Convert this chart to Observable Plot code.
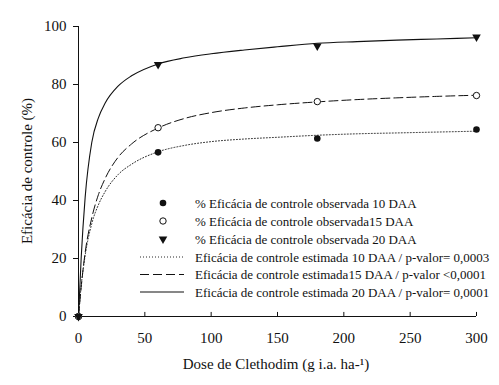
<!DOCTYPE html>
<html><head><meta charset="utf-8">
<script src="https://cdn.jsdelivr.net/npm/d3@7"></script>
<script src="https://cdn.jsdelivr.net/npm/@observablehq/plot@0.6"></script>
<style>body{margin:0;background:#fff} svg text{font-family:'Liberation Serif','Times New Roman',serif !important;}</style>
</head><body><div id="chart"></div>
<script>
// Observed data
const doses = [0, 60, 180, 300];
const obs10 = [0, 56.6, 61.4, 64.5];
const obs15 = [0, 65.1, 74.1, 76.2];
const obs20 = [0, 86.9, 93.3, 96.4];
// Fitted curves
const curveX = [0, 2, 5, 10, 15, 20, 30, 40, 60, 80, 100, 125, 150, 180, 210, 240, 270, 300];
const est10 = [0, 10.5, 21, 32, 38.5, 43, 49, 52.5, 56.8, 59.0, 60.3, 61.2, 61.8, 62.5, 63.0, 63.3, 63.6, 63.9];
const est15 = [0, 10, 22, 34, 42, 47.5, 55, 59.5, 65, 68.3, 70.3, 71.9, 73.0, 74.0, 74.8, 75.4, 75.9, 76.3];
const est20 = [0, 20, 41, 60, 68.5, 73.5, 79.5, 83, 87.1, 89.2, 90.6, 91.9, 93.0, 94.2, 94.8, 95.3, 95.7, 96.1];
const xTicks = [0, 50, 100, 150, 200, 250, 300];
const yTicks = [0, 20, 40, 60, 80, 100];
const xTitle = "Dose de Clethodim (g i.a. ha-¹)";
const yTitle = "Eficácia de controle (%)";
const legendLabels = [
  "% Eficácia de controle observada 10 DAA",
  "% Eficácia de controle observada15 DAA",
  "% Eficácia de controle observada 20 DAA",
  "Eficácia de controle estimada 10 DAA / p-valor= 0,0003",
  "Eficácia de controle estimada15 DAA / p-valor <0,0001",
  "Eficácia de controle estimada 20 DAA / p-valor= 0,0001"
];

const obs = (ys) => doses.map((x, i) => ({x, y: ys[i]}));
const cur = (ys) => curveX.map((x, i) => ({x, y: ys[i]}));
const ink = "#111";
const font = "'Liberation Serif', 'Times New Roman', serif";

const plot = Plot.plot({
  width: 499, height: 385,
  marginLeft: 78, marginRight: 23, marginTop: 26, marginBottom: 69,
  style: {fontFamily: font, fontSize: "15px", background: "#fff", color: ink},
  x: {domain: [0, 300]},
  y: {domain: [0, 100]},
  marks: [
    Plot.axisY(yTicks, {tickSize: 5, tickPadding: 7, label: null, fontSize: 15}),
    Plot.axisX(xTicks, {tickSize: 0, tickPadding: 16, label: null, fontSize: 15}),
    Plot.ruleX(xTicks, {y1: 0, y2: 1.4, stroke: ink}),
    Plot.ruleY([0], {stroke: ink}),
    Plot.ruleX([0], {stroke: ink}),
    Plot.line(cur(est10), {x: "x", y: "y", stroke: ink, strokeWidth: 0.9, strokeDasharray: "1,2", curve: "monotone-x"}),
    Plot.line(cur(est15), {x: "x", y: "y", stroke: ink, strokeWidth: 1, strokeDasharray: "9,4", curve: "monotone-x"}),
    Plot.line(cur(est20), {x: "x", y: "y", stroke: ink, strokeWidth: 1.1, curve: "monotone-x"}),
    Plot.dot(obs(obs10), {x: "x", y: "y", r: 3.3, fill: ink, stroke: "none"}),
    Plot.dot(obs(obs15), {x: "x", y: "y", r: 3.2, fill: "#fff", stroke: ink, strokeWidth: 1}),
    Plot.dot(obs(obs20), {x: "x", y: "y", r: 3.2, symbol: "triangle", rotate: 180, fill: ink, stroke: "none"})
  ]
});

document.getElementById("chart").appendChild(plot);
const svg = d3.select(plot);

svg.append("text").attr("x", 276).attr("y", 369).attr("text-anchor", "middle")
  .attr("font-family", font).attr("font-size", 15).attr("fill", ink).text(xTitle);
svg.append("text").attr("transform", "translate(32,171) rotate(-90)").attr("text-anchor", "middle")
  .attr("font-family", font).attr("font-size", 15).attr("fill", ink).text(yTitle);

// Legend
const rowsY = [203, 221, 239, 257, 274.5, 292];
const lg = svg.append("g").attr("text-anchor", "start");
const symX = 163;
lg.append("circle").attr("cx", symX).attr("cy", rowsY[0]).attr("r", 3.3).attr("fill", ink);
lg.append("circle").attr("cx", symX).attr("cy", rowsY[1]).attr("r", 3.2).attr("fill", "#fff").attr("stroke", ink);
lg.append("path").attr("transform", `translate(${symX},${rowsY[2]}) rotate(180)`)
  .attr("d", d3.symbol(d3.symbolTriangle, Math.PI * 3.2 * 3.2)()).attr("fill", ink);
const dashes = ["1,2", "9,4", null];
const widths = [0.9, 1, 1.1];
for (let i = 0; i < 3; i++) {
  const l = lg.append("line").attr("x1", 140).attr("x2", 184).attr("y1", rowsY[3 + i]).attr("y2", rowsY[3 + i])
    .attr("stroke", ink).attr("stroke-width", widths[i]);
  if (dashes[i]) l.attr("stroke-dasharray", dashes[i]);
}
legendLabels.forEach((t, i) => {
  lg.append("text").attr("x", 195).attr("y", rowsY[i] + 4.5).attr("text-anchor", "start")
    .attr("font-family", font).attr("font-size", 13).attr("fill", ink).text(t);
});
</script>
</body></html>
